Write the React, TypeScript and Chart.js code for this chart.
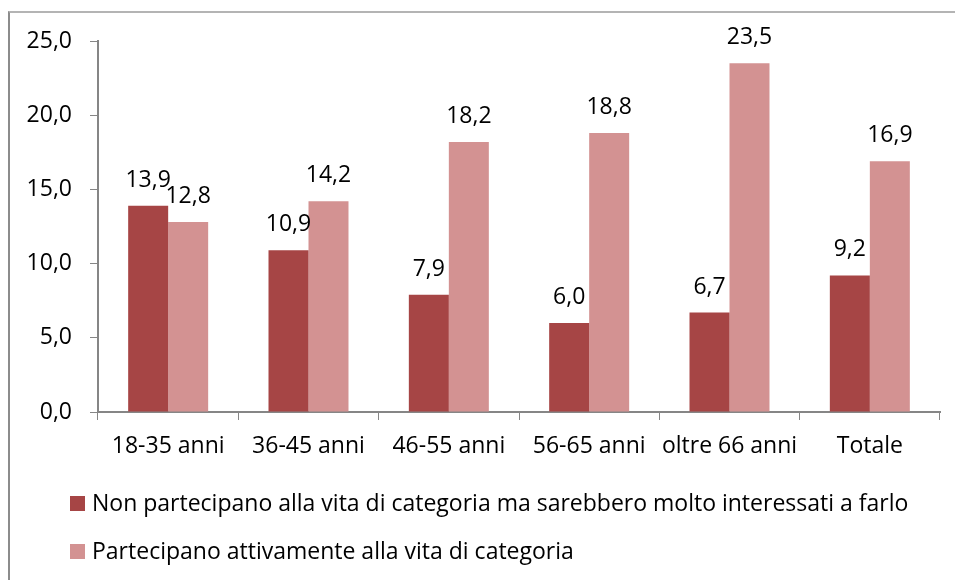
import React, { useEffect, useRef } from "react";
import { Chart, registerables } from "chart.js";

Chart.register(...registerables);

const categories = ["18-35 anni", "36-45 anni", "46-55 anni", "56-65 anni", "oltre 66 anni", "Totale"];
const seriesNames = [
  "Non partecipano alla vita di categoria ma sarebbero molto interessati a farlo",
  "Partecipano attivamente alla vita di categoria",
];
const nonPartecipano = [13.9, 10.9, 7.9, 6.0, 6.7, 9.2];
const partecipano = [12.8, 14.2, 18.2, 18.8, 23.5, 16.9];
const yTicks = [0, 5, 10, 15, 20, 25];

const FONT = "'Open Sans', sans-serif";
const FONT_SIZE = 23;
const COLORS = ["#A64545", "#D39292"];

const fmt = (v: number) => v.toFixed(1).replace(".", ",");

const dataLabels = {
  id: "dataLabels",
  afterDatasetsDraw(chart: any) {
    const ctx = chart.ctx;
    ctx.save();
    ctx.font = `${FONT_SIZE}px ${FONT}`;
    ctx.fillStyle = "#000";
    ctx.textAlign = "center";
    ctx.textBaseline = "alphabetic";
    chart.data.datasets.forEach((ds: any, i: number) => {
      const meta = chart.getDatasetMeta(i);
      meta.data.forEach((el: any, j: number) => {
        ctx.fillText(fmt(ds.data[j]), el.x, el.y - 19);
      });
    });
    ctx.restore();
  },
};

const customLegend = {
  id: "customLegend",
  afterDraw(chart: any) {
    const ctx = chart.ctx;
    ctx.save();
    ctx.font = `${FONT_SIZE}px ${FONT}`;
    ctx.textBaseline = "middle";
    ctx.textAlign = "left";
    const rows = [503.5, 551.5];
    chart.data.datasets.forEach((ds: any, i: number) => {
      const cy = rows[i];
      ctx.fillStyle = ds.backgroundColor;
      ctx.fillRect(70, cy - 7.5, 15, 15);
      ctx.fillStyle = "#000";
      ctx.fillText(ds.label, 92, cy + 1);
    });
    ctx.restore();
  },
};

export default function App() {
  const ref = useRef<HTMLCanvasElement>(null);
  useEffect(() => {
    if (!ref.current) return;
    const chart = new Chart(ref.current, {
      type: "bar",
      data: {
        labels: categories,
        datasets: [
          { label: seriesNames[0], data: nonPartecipano, backgroundColor: COLORS[0], categoryPercentage: 0.57, barPercentage: 1 },
          { label: seriesNames[1], data: partecipano, backgroundColor: COLORS[1], categoryPercentage: 0.57, barPercentage: 1 },
        ],
      },
      options: {
        animation: false,
        responsive: false,
        layout: { padding: { left: 0, top: 41, right: 15, bottom: 0 } },
        plugins: { legend: { display: false }, tooltip: { enabled: false } },
        scales: {
          x: {
            grid: { display: true, drawOnChartArea: false, drawTicks: true, tickLength: 8, color: "#868686", offset: true },
            border: { display: true, color: "#868686", width: 2 },
            ticks: { color: "#000", font: { family: FONT, size: FONT_SIZE }, padding: 13, maxRotation: 0, autoSkip: false },
            afterFit: (s: any) => { s.height = 580 - 412; },
          },
          y: {
            min: 0,
            max: 25,
            afterBuildTicks: (s: any) => { s.ticks = yTicks.map((v) => ({ value: v })); },
            grid: { display: true, drawOnChartArea: false, drawTicks: true, tickLength: 8, color: "#868686" },
            border: { display: true, color: "#868686", width: 2 },
            ticks: { color: "#000", font: { family: FONT, size: FONT_SIZE }, padding: 18, callback: (v: any) => fmt(Number(v)) },
            afterFit: (s: any) => { s.width = 98; },
          },
        },
      },
      plugins: [dataLabels, customLegend],
    });
    return () => chart.destroy();
  }, []);
  return (
    <div style={{ position: "fixed", left: 0, top: 0, width: 955, height: 580, background: "#fff", overflow: "hidden" }}>
      <div style={{ position: "absolute", left: 8, top: 11, width: 1000, height: 1000, borderTop: "2px solid #b4b4b4", borderLeft: "2px solid #8c8c8c" }} />
      <canvas ref={ref} width={955} height={580} style={{ position: "absolute", left: 0, top: 0 }} />
    </div>
  );
}
